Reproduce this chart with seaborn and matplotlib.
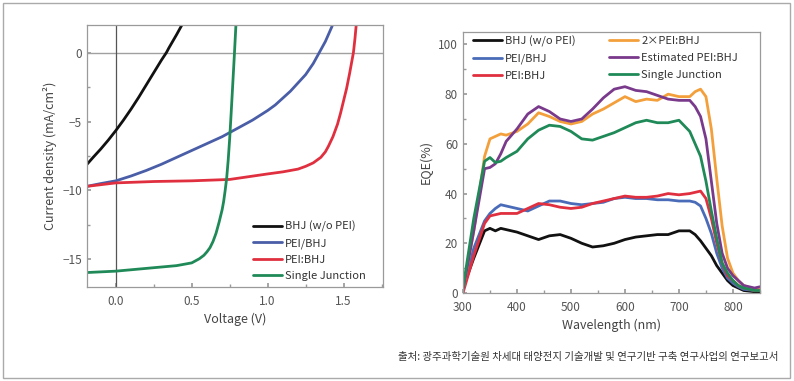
import matplotlib
matplotlib.use("Agg")
import matplotlib.pyplot as plt
import matplotlib.ticker as mticker
from matplotlib.patches import Rectangle
import pandas as pd
import seaborn as sns

# J-V curves (left panel)
jv_labels = ["BHJ (w/o PEI)", "PEI/BHJ", "PEI:BHJ", "Single Junction"]
jv_colors = ["#111111", "#4a5ea8", "#e0303f", "#1f8a58"]

bhj_v = [-0.19, -0.15, -0.1, -0.05, 0.0, 0.05, 0.1, 0.15, 0.2, 0.25, 0.3, 0.333, 0.35, 0.4, 0.44, 0.46]
bhj_j = [-8.1, -7.6, -7.0, -6.35, -5.65, -4.9, -4.1, -3.25, -2.35, -1.45, -0.55, 0.0, 0.35, 1.3, 2.1, 2.5]

pei_slash_v = [-0.19, -0.1, 0.0, 0.1, 0.2, 0.3, 0.42, 0.5, 0.6, 0.7, 0.75, 0.8, 0.9, 1.0, 1.05,
               1.1, 1.15, 1.2, 1.25, 1.3, 1.34, 1.38, 1.42, 1.45]
pei_slash_j = [-9.7, -9.5, -9.3, -8.95, -8.55, -8.1, -7.5, -7.1, -6.6, -6.1, -5.8, -5.5, -4.9, -4.2, -3.8,
               -3.3, -2.8, -2.2, -1.6, -0.8, 0.0, 0.8, 1.8, 2.6]

pei_colon_v = [-0.19, 0.0, 0.25, 0.5, 0.75, 1.0, 1.1, 1.2, 1.25, 1.3, 1.35, 1.38, 1.4, 1.43, 1.46,
               1.48, 1.5, 1.52, 1.54, 1.555, 1.565, 1.575, 1.585, 1.59]
pei_colon_j = [-9.7, -9.45, -9.35, -9.3, -9.2, -8.8, -8.65, -8.45, -8.25, -8.0, -7.6, -7.2, -6.8, -6.1, -5.2,
               -4.4, -3.5, -2.6, -1.5, -0.6, 0.0, 1.0, 2.2, 3.0]

single_v = [-0.19, 0.0, 0.2, 0.4, 0.5, 0.55, 0.58, 0.6, 0.62, 0.64, 0.66, 0.68, 0.7, 0.71, 0.72,
            0.73, 0.74, 0.75, 0.76, 0.77, 0.78, 0.79, 0.795]
single_j = [-15.95, -15.85, -15.65, -15.45, -15.25, -14.95, -14.7, -14.45, -14.15, -13.7, -13.1, -12.3, -11.4, -10.8, -10.0,
            -9.1, -7.8, -6.2, -4.3, -2.3, -0.3, 1.8, 3.0]

jv_v = [bhj_v, pei_slash_v, pei_colon_v, single_v]
jv_j = [bhj_j, pei_slash_j, pei_colon_j, single_j]

# EQE spectra (right panel)
wl = [300, 320, 340, 350, 360, 370, 380, 400, 420, 440, 460, 480, 500, 520, 540, 560,
      580, 600, 620, 640, 660, 680, 700, 720, 730, 740, 750, 760, 770, 780, 790, 800,
      810, 820, 840, 850]
eqe_bhj = [2, 14, 25, 26, 25, 26, 25.5, 24.5, 23, 21.5, 23, 23.5, 22, 20, 18.5, 19,
           20, 21.5, 22.5, 23, 23.5, 23.5, 25, 25, 23.5, 21, 18, 15, 11, 8, 5, 3,
           2, 1, 0.5, 0.5]
eqe_pei_slash = [2, 18, 29, 32, 34, 35.5, 35, 34, 33, 35, 37, 37, 36, 35.5, 36, 36.5,
                 38, 38.5, 38, 38, 37.5, 37.5, 37, 37, 36.5, 35, 30, 24, 16, 10, 6, 4,
                 2.5, 1.5, 1, 1]
eqe_pei_colon = [0, 15, 28, 31, 31.5, 32, 32, 32, 34, 36, 35.5, 34.5, 34, 34.5, 36, 37,
                 38, 39, 38.5, 38.5, 39, 40, 39.5, 40, 40.5, 41, 38, 30, 20, 12, 7, 5,
                 3, 2, 1, 1]
eqe_2x = [1, 25, 55, 62, 63, 64, 63.5, 65, 68, 72.5, 71, 69, 68, 69, 72, 74,
          76.5, 79, 77, 78, 77.5, 80, 79, 79, 81, 82, 79, 66, 46, 27, 14, 8,
          5, 3, 1.5, 2]
eqe_est = [1, 25, 50, 50.5, 52, 56, 61, 66, 72, 75, 73, 70, 69, 70, 74, 78.5,
           82, 83, 81.5, 81, 79.5, 78, 77.5, 77.5, 75, 71, 62, 45, 28, 16, 10, 7,
           5, 3, 2, 2.5]
eqe_single = [2, 30, 53, 54.5, 52.5, 53, 54.5, 57, 62, 65.5, 67.5, 67, 65, 62, 61.5, 63,
              64.5, 66.5, 68.5, 69.5, 68.5, 68.5, 69.5, 65, 60, 55, 45, 33, 22, 12, 8, 5,
              3, 2, 1, 1]

eqe_labels = ["BHJ (w/o PEI)", "PEI/BHJ", "PEI:BHJ", "2\u00d7PEI:BHJ", "Estimated PEI:BHJ", "Single Junction"]
eqe_colors = ["#111111", "#4a6cb8", "#e0303f", "#f3a03c", "#7a3a8c", "#1f8a58"]
eqe_vals = [eqe_bhj, eqe_pei_slash, eqe_pei_colon, eqe_2x, eqe_est, eqe_single]

caption = "출처: 광주과학기술원 차세대 태양전지 기술개발 및 연구기반 구축 연구사업의 연구보고서"

sns.set_theme(style="white")
plt.rcParams['font.family'] = ['Noto Sans CJK KR', 'DejaVu Sans']

tick_color = "#555555"
spine_color = "#9a9a9a"

fig = plt.figure(figsize=(7.94, 3.81), dpi=100)
fig.patches.append(Rectangle((0.004, 0.008), 0.991, 0.984, transform=fig.transFigure,
                             fill=False, edgecolor="#aaaaaa", linewidth=1.0))

ax1 = fig.add_axes([0.1096, 0.2467, 0.3728, 0.6877])
ax2 = fig.add_axes([0.5831, 0.2310, 0.3740, 0.6850])

# Left panel
ax1.axhline(0, color="#a0a0a0", linewidth=1.0, zorder=1)
ax1.axvline(0, color="#555555", linewidth=0.9, zorder=1)
for v, j, lab, col in zip(jv_v, jv_j, jv_labels, jv_colors):
    df = pd.DataFrame({"V": v, "J": j})
    sns.lineplot(data=df, x="V", y="J", ax=ax1, color=col, linewidth=2.0, label=lab, sort=False)
ax1.set_xlim(-0.19, 1.76)
ax1.set_ylim(-17, 2)
ax1.xaxis.set_major_locator(mticker.MultipleLocator(0.5))
ax1.xaxis.set_minor_locator(mticker.MultipleLocator(0.25))
ax1.yaxis.set_major_locator(mticker.MultipleLocator(5))
ax1.yaxis.set_minor_locator(mticker.MultipleLocator(2.5))
ax1.xaxis.set_major_formatter(mticker.FormatStrFormatter('%.1f'))
ax1.yaxis.set_major_formatter(mticker.FuncFormatter(lambda y, p: f"{y:.0f}".replace("-", "\u2212")))
ax1.set_xlabel("Voltage (V)", fontsize=9, color="#444444", labelpad=3)
ax1.set_ylabel("Current density (mA/cm\u00b2)", fontsize=9, color="#444444", labelpad=4)
ax1.legend(loc="lower right", bbox_to_anchor=(0.975, -0.015), frameon=False, fontsize=8,
           handlelength=2.6, handletextpad=0.3, labelspacing=0.55, labelcolor="#333333")

# Right panel
for vals, lab, col in zip(eqe_vals, eqe_labels, eqe_colors):
    df = pd.DataFrame({"wl": wl, "eqe": vals})
    sns.lineplot(data=df, x="wl", y="eqe", ax=ax2, color=col, linewidth=2.0, label=lab)
ax2.set_xlim(300, 850)
ax2.set_ylim(0, 105)
ax2.xaxis.set_major_locator(mticker.MultipleLocator(100))
ax2.xaxis.set_minor_locator(mticker.MultipleLocator(50))
ax2.yaxis.set_major_locator(mticker.MultipleLocator(20))
ax2.yaxis.set_minor_locator(mticker.MultipleLocator(10))
ax2.set_xlabel("Wavelength (nm)", fontsize=9, color="#444444", labelpad=3)
ax2.set_ylabel("EQE(%)", fontsize=9, color="#444444", labelpad=4)
ax2.legend(loc="upper left", bbox_to_anchor=(0.0, 1.025), ncol=2, frameon=False, fontsize=8,
           handlelength=2.6, handletextpad=0.3, labelspacing=0.6, columnspacing=3.0,
           labelcolor="#333333")

for ax in (ax1, ax2):
    for s in ax.spines.values():
        s.set_color(spine_color)
        s.set_linewidth(0.9)
    ax.tick_params(which="both", direction="in", color=spine_color, labelcolor=tick_color,
                   labelsize=8.5, bottom=True, left=True)
    ax.tick_params(which="major", length=3)
    ax.tick_params(which="minor", length=2)
    ax.tick_params(axis="x", which="major", pad=6)

fig.text(0.98, 0.062, caption, ha="right", va="center", fontsize=7.5, color="#333333")

fig.savefig("out.png", dpi=100)
